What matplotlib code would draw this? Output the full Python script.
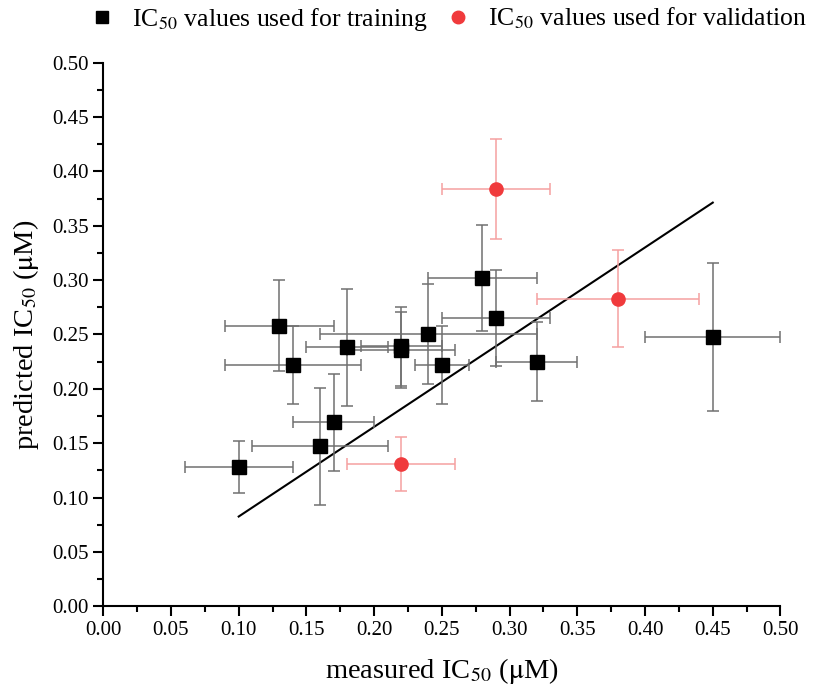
import numpy as np
import matplotlib
matplotlib.use('Agg')
import matplotlib.pyplot as plt
from matplotlib.lines import Line2D
from matplotlib.ticker import MultipleLocator

plt.rcParams['font.family'] = ['Liberation Serif', 'DejaVu Serif']
plt.rcParams['mathtext.fontset'] = 'stix'

# training set: measured vs predicted IC50 with errors
train_x = [0.10, 0.13, 0.14, 0.16, 0.17, 0.18, 0.22, 0.22, 0.24, 0.25, 0.28, 0.29, 0.32, 0.45]
train_y = [0.128, 0.258, 0.222, 0.147, 0.169, 0.238, 0.239, 0.236, 0.250, 0.222, 0.302, 0.265, 0.225, 0.248]
train_xerr = [0.04, 0.04, 0.05, 0.05, 0.03, 0.03, 0.03, 0.04, 0.08, 0.02, 0.04, 0.04, 0.03, 0.05]
train_yerr = [0.024, 0.042, 0.036, 0.054, 0.045, 0.054, 0.036, 0.035, 0.046, 0.036, 0.049, 0.044, 0.036, 0.068]

# validation set
val_x = [0.22, 0.29, 0.38]
val_y = [0.131, 0.384, 0.283]
val_xerr = [0.04, 0.04, 0.06]
val_yerr = [0.025, 0.046, 0.045]

# linear fit line
fit_slope = 0.825
fit_intercept = 0.0
fit_xrange = [0.10, 0.45]

train_label = r'IC$_{50}$ values used for training'
val_label = r'IC$_{50}$ values used for validation'

fig = plt.figure(figsize=(8.13, 6.96), dpi=100)
ax = fig.add_axes([0.127, 0.129, 0.833, 0.781])

ax.errorbar(train_x, train_y, xerr=train_xerr, yerr=train_yerr, fmt='s',
            color='black', ms=10, ecolor='#707070', elinewidth=1.1,
            capsize=4, capthick=1.1, zorder=3)
ax.errorbar(val_x, val_y, xerr=val_xerr, yerr=val_yerr, fmt='o',
            color='#f03a3c', ms=9.5, ecolor='#f5a0a0', elinewidth=1.1,
            capsize=4, capthick=1.1, zorder=3)

fx = np.array(fit_xrange)
ax.plot(fx, fit_slope * fx + fit_intercept, color='black', lw=1.5, zorder=2)

ax.set_xlim(0, 0.5)
ax.set_ylim(0, 0.5)
ax.xaxis.set_major_locator(MultipleLocator(0.05))
ax.yaxis.set_major_locator(MultipleLocator(0.05))
ax.xaxis.set_minor_locator(MultipleLocator(0.025))
ax.yaxis.set_minor_locator(MultipleLocator(0.025))
ax.xaxis.set_major_formatter(lambda v, p: f'{v:.2f}')
ax.yaxis.set_major_formatter(lambda v, p: f'{v:.2f}')

for side in ['top', 'right']:
    ax.spines[side].set_visible(False)
for side in ['left', 'bottom']:
    ax.spines[side].set_linewidth(1.5)

ax.tick_params(which='major', direction='out', length=7, width=1.5, labelsize=15)
ax.tick_params(which='minor', direction='out', length=4, width=1.5)

ax.set_xlabel(r'measured IC$_{50}$ ($\mathrm{\mu}$M)', fontsize=20.5, labelpad=12)
ax.set_ylabel(r'predicted IC$_{50}$ ($\mathrm{\mu}$M)', fontsize=20.5, labelpad=8)

# legend shows markers only
handles = [
    Line2D([], [], ls='none', marker='s', ms=9, color='black', label=train_label),
    Line2D([], [], ls='none', marker='o', ms=9, color='#f03a3c', label=val_label),
]
fig.legend(handles=handles, loc='upper right', bbox_to_anchor=(1.008, 1.01),
           ncol=2, frameon=False, fontsize=18.5, handletextpad=0.55,
           columnspacing=0.6, handlelength=1.2, borderaxespad=0.1)

fig.savefig('out.png', dpi=100)
